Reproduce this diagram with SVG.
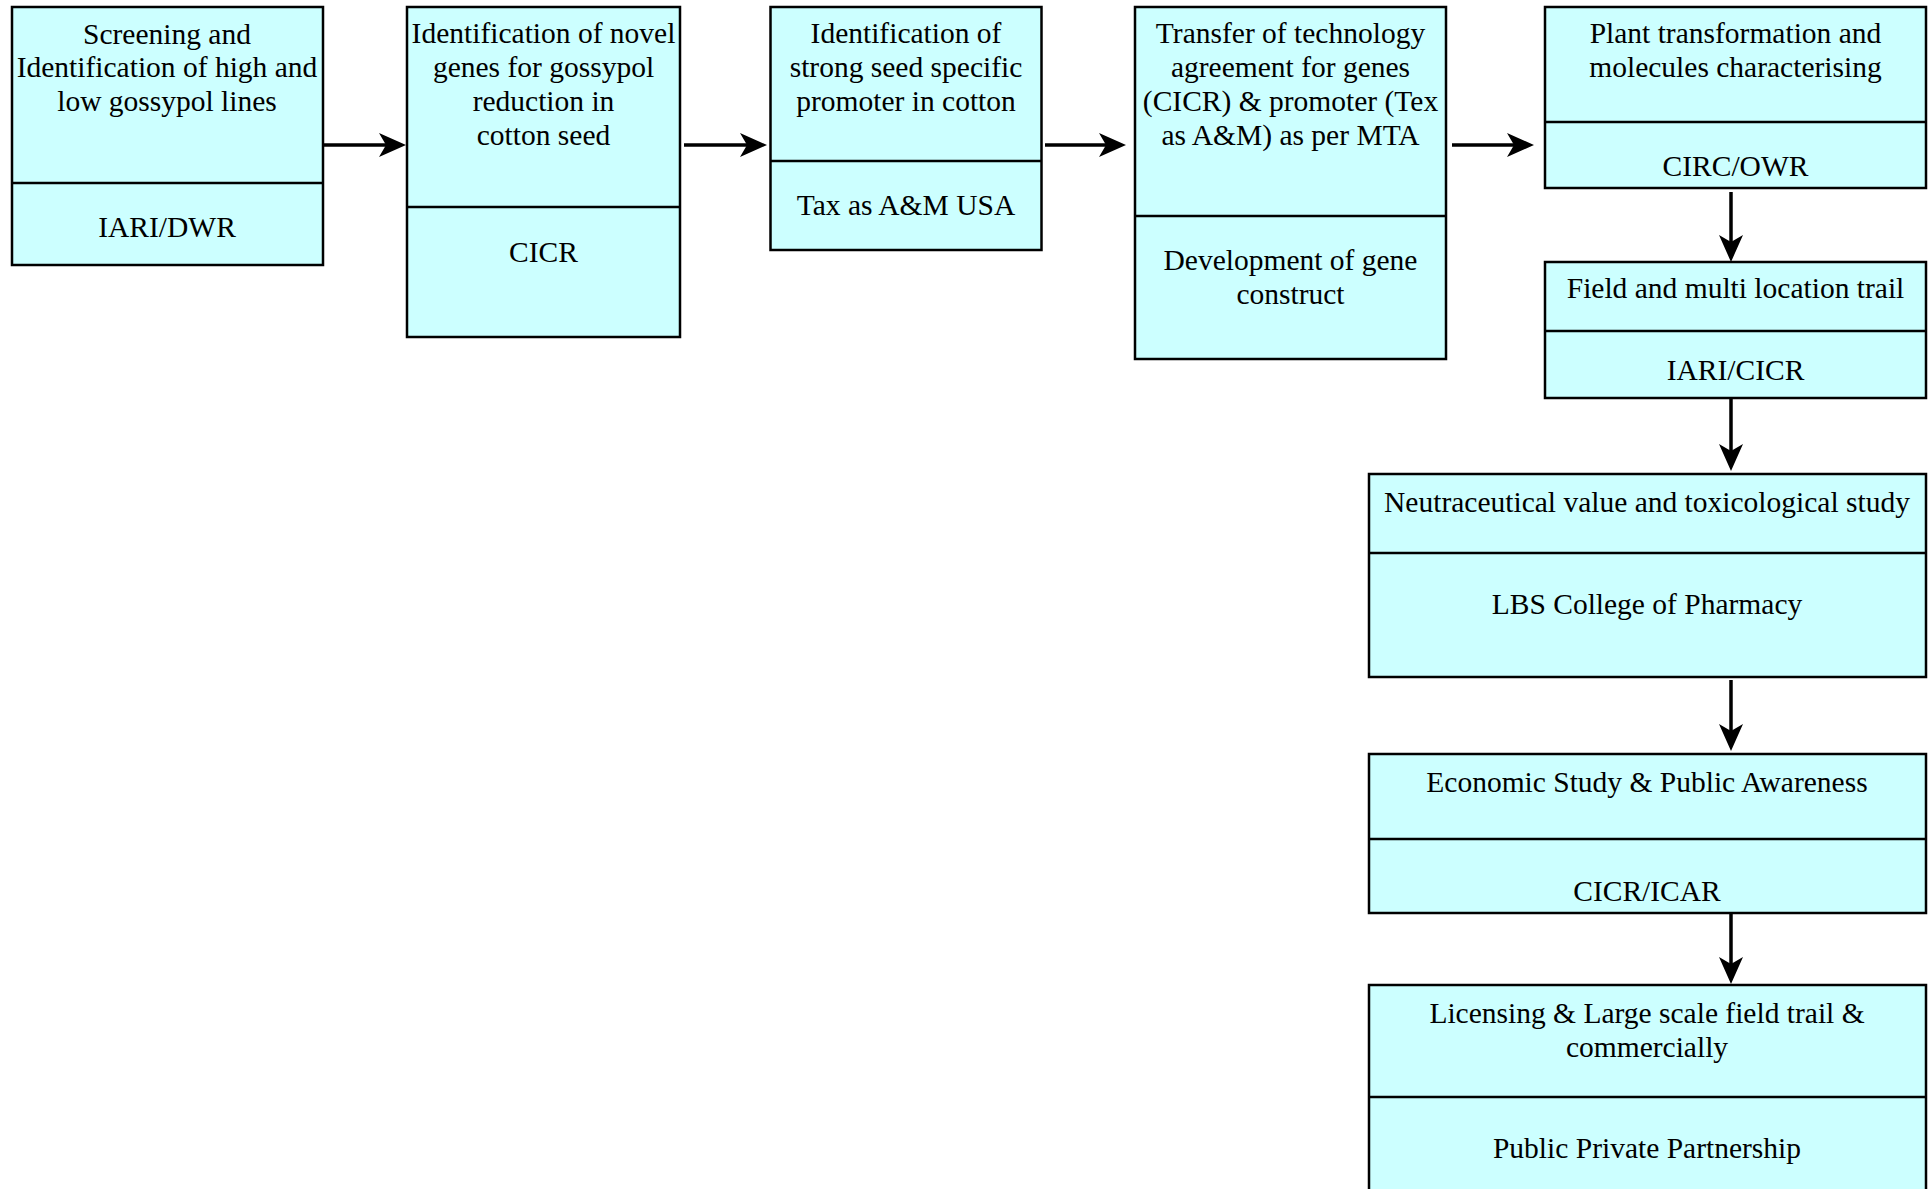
<svg xmlns="http://www.w3.org/2000/svg" width="1930" height="1189" viewBox="0 0 1930 1189">
<defs>
<style>
.box{fill:#ccffff;stroke:#000;stroke-width:2.5}
.div{stroke:#000;stroke-width:2.5}
text{font-family:"Liberation Serif","Times New Roman",serif;font-size:29.5px;fill:#000;text-anchor:middle}
.conn{stroke:#000;stroke-width:3.5;fill:none}
</style>
<marker id="ah" markerUnits="userSpaceOnUse" viewBox="-20 -15 32 30" refX="0" refY="0" markerWidth="32" markerHeight="30" orient="auto" overflow="visible">
<path d="M10,0 L-17,-12 L-10,0 L-17,12 Z" fill="#000"/>
</marker>
</defs>
<rect width="1930" height="1189" fill="#fff"/>

<g id="n1">
<rect class="box" x="12" y="7" width="311" height="258"/>
<line class="div" x1="12" y1="183" x2="323" y2="183"/>
<text x="167" y="44">Screening and</text>
<text x="167" y="77">Identification of high and</text>
<text x="167" y="111">low gossypol lines</text>
<text x="167" y="237">IARI/DWR</text>
</g>

<g id="n2">
<rect class="box" x="407" y="7" width="273" height="330"/>
<line class="div" x1="407" y1="207" x2="680" y2="207"/>
<text x="543.5" y="43">Identification of novel</text>
<text x="543.5" y="77">genes for gossypol</text>
<text x="543.5" y="111">reduction in</text>
<text x="543.5" y="145">cotton seed</text>
<text x="543.5" y="262">CICR</text>
</g>

<g id="n3">
<rect class="box" x="770.5" y="7" width="271" height="243"/>
<line class="div" x1="770.5" y1="161" x2="1041.5" y2="161"/>
<text x="906" y="43">Identification of</text>
<text x="906" y="77">strong seed specific</text>
<text x="906" y="111">promoter in cotton</text>
<text x="906" y="215">Tax as A&amp;M USA</text>
</g>

<g id="n4">
<rect class="box" x="1135" y="7" width="311" height="352"/>
<line class="div" x1="1135" y1="216" x2="1446" y2="216"/>
<text x="1290.5" y="43">Transfer of technology</text>
<text x="1290.5" y="77">agreement for genes</text>
<text x="1290.5" y="111">(CICR) &amp; promoter (Tex</text>
<text x="1290.5" y="145">as A&amp;M) as per MTA</text>
<text x="1290.5" y="270">Development of gene</text>
<text x="1290.5" y="304">construct</text>
</g>

<g id="n5">
<rect class="box" x="1545" y="7" width="381" height="181"/>
<line class="div" x1="1545" y1="122" x2="1926" y2="122"/>
<text x="1735.5" y="43">Plant transformation and</text>
<text x="1735.5" y="77">molecules characterising</text>
<text x="1735.5" y="176">CIRC/OWR</text>
</g>

<g id="n6">
<rect class="box" x="1545" y="262" width="381" height="136"/>
<line class="div" x1="1545" y1="331" x2="1926" y2="331"/>
<text x="1735.5" y="298">Field and multi location trail</text>
<text x="1735.5" y="380">IARI/CICR</text>
</g>

<g id="n7">
<rect class="box" x="1369" y="474" width="557" height="203"/>
<line class="div" x1="1369" y1="553" x2="1926" y2="553"/>
<text x="1647" y="512">Neutraceutical value and toxicological study</text>
<text x="1647" y="614">LBS College of Pharmacy</text>
</g>

<g id="n8">
<rect class="box" x="1369" y="754" width="557" height="159"/>
<line class="div" x1="1369" y1="839" x2="1926" y2="839"/>
<text x="1647" y="792">Economic Study &amp; Public Awareness</text>
<text x="1647" y="901">CICR/ICAR</text>
</g>

<g id="n9">
<rect class="box" x="1369" y="985" width="557" height="210"/>
<line class="div" x1="1369" y1="1097" x2="1926" y2="1097"/>
<text x="1647" y="1023">Licensing &amp; Large scale field trail &amp;</text>
<text x="1647" y="1057">commercially</text>
<text x="1647" y="1158">Public Private Partnership</text>
</g>

<g id="connectors">
<line class="conn" x1="323" y1="145" x2="396" y2="145" marker-end="url(#ah)"/>
<line class="conn" x1="684" y1="145" x2="757" y2="145" marker-end="url(#ah)"/>
<line class="conn" x1="1045" y1="145" x2="1116" y2="145" marker-end="url(#ah)"/>
<line class="conn" x1="1452" y1="145" x2="1524" y2="145" marker-end="url(#ah)"/>
<line class="conn" x1="1731" y1="192" x2="1731" y2="252" marker-end="url(#ah)"/>
<line class="conn" x1="1731" y1="398" x2="1731" y2="461" marker-end="url(#ah)"/>
<line class="conn" x1="1731" y1="680" x2="1731" y2="741" marker-end="url(#ah)"/>
<line class="conn" x1="1731" y1="913" x2="1731" y2="974" marker-end="url(#ah)"/>
</g>
</svg>
